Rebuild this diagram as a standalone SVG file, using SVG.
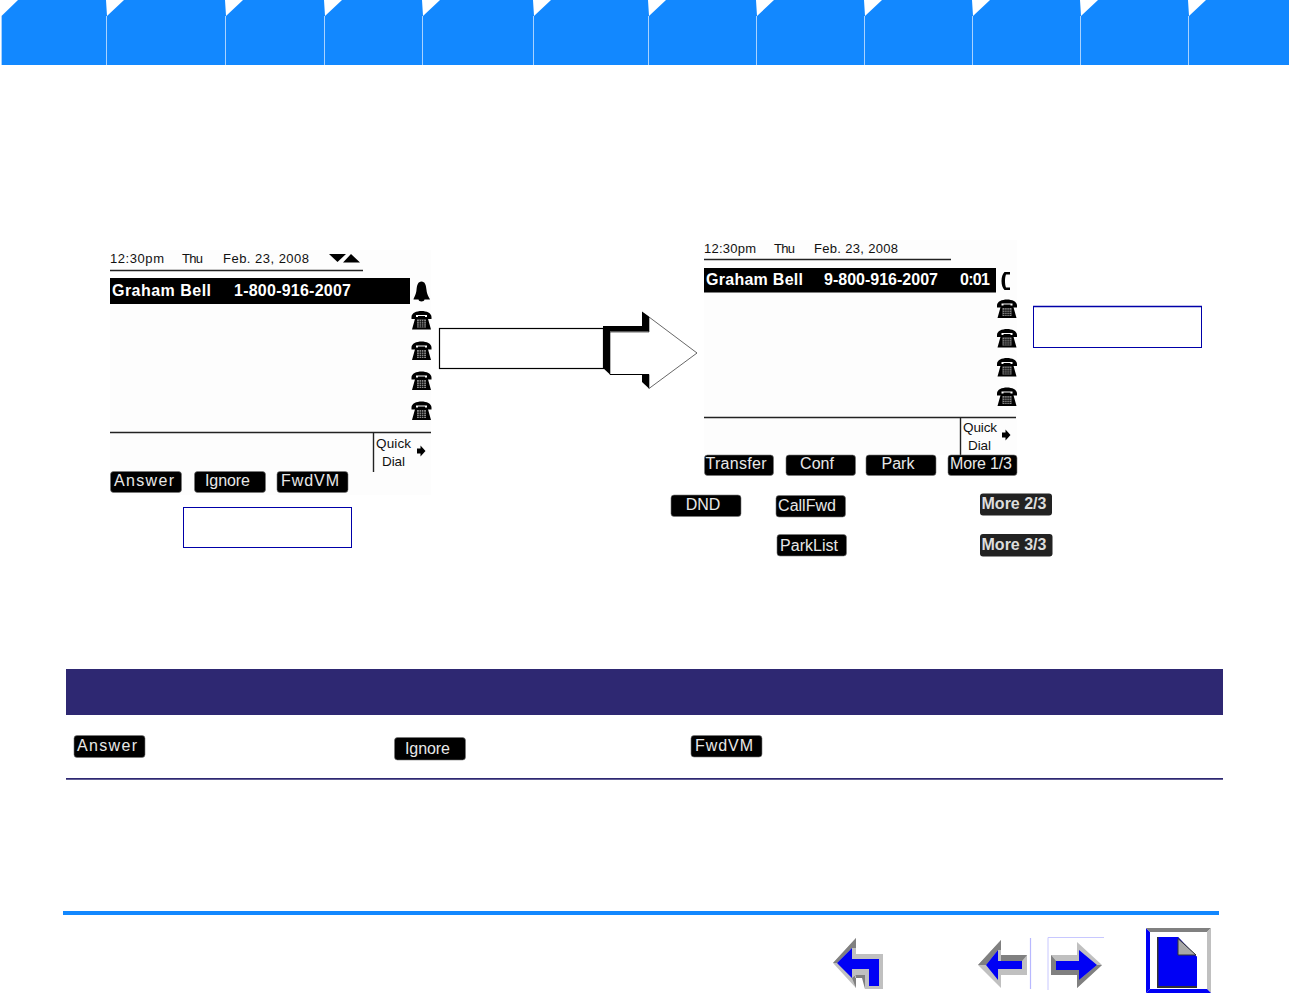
<svg xmlns="http://www.w3.org/2000/svg" width="1289" height="993" viewBox="0 0 1289 993">
<style>
text{font-family:"Liberation Sans",Arial,sans-serif}
.tab{fill:#1288ff}
.sep{stroke:#a8d2ff;stroke-width:1}
.cut{fill:#fff}
.lbl{font-size:13px;fill:#111}
.lbls{font-size:13.5px;fill:#111}
.nm{font-size:16px;font-weight:bold;fill:#fff}
.btn{fill:#000;stroke:#777;stroke-width:.6}
.bt{font-size:16px;fill:#e8e8e8;text-anchor:middle}
.rule{stroke:#222;stroke-width:1.4;fill:none}
.callout{fill:#fff;stroke:#0000a8;stroke-width:1}
.more{font-size:16px;font-weight:bold;fill:#ddd;text-anchor:middle}
.g1{fill:#c0c0c0}.g2{fill:#808080}.bl{fill:#0000f5}
</style>
<defs>
<g id="phone">
<path d="M-10-3.500C-10-7.500-5-9.500 0-9.500S10-7.500 10-3.500V-1.500H5.500V-5.500H-5.500V-1.500H-10Z" fill="#000"/>
<path d="M-6-3.500H-3.500V-4.500H3.500V-3.500H6L9.500 9H-9.500Z" fill="#000"/>
<rect x="-4.500" y="-1" width="9" height="8" fill="#888"/>
<path d="M-4.500 1.200H4.500M-4.500 3.400H4.500M-4.500 5.500H4.500M-2.200-1V7M0-1V7M2.200-1V7" stroke="#000" stroke-width=".7"/>
</g>
<path id="dart" d="M-4-2.500H-.5V-5.500L4.500 0-.5 5.500V2.500H-4Z" fill="#000"/>
</defs>

<g id="nav-tabs">
<rect class="tab" x="0" y="0" width="1289" height="65"/>
<path class="cut" d="M0 0H18L1.500 16V65H0ZM106 0H124L107 16ZM225 0H243L226 16ZM324 0H342L325 16ZM422 0H440L423 16ZM533 0H551L534 16ZM648 0H666L649 16ZM756 0H774L757 16ZM864 0H882L865 16ZM972 0H990L973 16ZM1080 0H1098L1081 16ZM1188 0H1206L1189 16Z"/>
<path class="sep" d="M1.500 16V65M106.500 16V65M225.500 16V65M324.500 16V65M422.500 16V65M533.500 16V65M648.500 16V65M756.500 16V65M864.500 16V65M972.500 16V65M1080.500 16V65M1188.500 16V65"/>
</g>

<g id="screen-ringing">
<rect x="110" y="250" width="321" height="245" fill="#fdfdfd"/>
<text class="lbl" x="110" y="263" textLength="54">12:30pm</text>
<text class="lbl" x="182" y="263" textLength="21">Thu</text>
<text class="lbl" x="223" y="263" textLength="86">Feb. 23, 2008</text>
<path d="M329 254H346L337.500 262ZM343 262.500 351 254 360 262.500Z" fill="#000"/>
<path class="rule" d="M110 270.500H363"/>
<rect x="110" y="278" width="300" height="26" fill="#000"/>
<text class="nm" x="112" y="296" textLength="99">Graham Bell</text>
<text class="nm" x="234" y="296" textLength="117">1-800-916-2007</text>
<path d="M421.500 281.500C418 281.500 417 285 416.500 290C416 295 414 297 413.500 299.500H418.500C418.500 302 424.500 302 424.500 299.500H430C429 297 427 295 426.500 290C426 285 425 281.500 421.500 281.500Z" fill="#000"/>
<use href="#phone" x="421.500" y="320.500"/>
<use href="#phone" x="421.500" y="351"/>
<use href="#phone" x="421.500" y="381"/>
<use href="#phone" x="421.500" y="411"/>
<path class="rule" d="M110 432.500H431M373.500 433V472"/>
<text class="lbls" x="376" y="448" textLength="35">Quick</text>
<text class="lbls" x="382" y="466" textLength="23">Dial</text>
<use href="#dart" x="421" y="451"/>
</g>

<g id="softkeys-ringing">
<rect class="btn" x="110.500" y="471.500" width="71" height="21" rx="3"/><text class="bt" x="144" y="486" textLength="60">Answer</text>
<rect class="btn" x="194.500" y="471.500" width="71" height="21" rx="3"/><text class="bt" x="227.500" y="486" textLength="45">Ignore</text>
<rect class="btn" x="277" y="471.500" width="71" height="21" rx="3"/><text class="bt" x="310" y="486" textLength="58">FwdVM</text>
</g>

<g id="callout-left"><rect class="callout" x="183.500" y="507.500" width="168" height="40"/></g>

<g id="screen-connected">
<rect x="704" y="240" width="313" height="215" fill="#fdfdfd"/>
<text class="lbl" x="704" y="253" textLength="52">12:30pm</text>
<text class="lbl" x="774" y="253" textLength="21">Thu</text>
<text class="lbl" x="814" y="253" textLength="84">Feb. 23, 2008</text>
<path class="rule" d="M704 259.500H951"/>
<rect x="704" y="268" width="292" height="24.500" fill="#000"/>
<text class="nm" x="706" y="285" textLength="97">Graham Bell</text>
<text class="nm" x="824" y="285" textLength="114">9-800-916-2007</text>
<text class="nm" x="960" y="285" textLength="30">0:01</text>
<path d="M1010 272H1004.500C1002.500 274 1001.500 277 1001.500 281S1002.500 288 1004.500 290H1010V287.500H1006C1005.300 285.500 1005 283.500 1005 281S1005.300 276.500 1006 274.500H1010Z" fill="#000"/>
<use href="#phone" x="1007" y="309"/>
<use href="#phone" x="1007" y="338.500"/>
<use href="#phone" x="1007" y="367.500"/>
<use href="#phone" x="1007" y="397"/>
<path class="rule" d="M704 417.500H1016M960.500 418V455"/>
<text class="lbls" x="963" y="432" textLength="34">Quick</text>
<text class="lbls" x="968" y="450" textLength="23">Dial</text>
<use href="#dart" x="1006" y="435"/>
</g>

<g id="softkeys-connected">
<rect class="btn" x="704.500" y="455" width="69" height="20.500" rx="3"/><text class="bt" x="736" y="469" textLength="61">Transfer</text>
<rect class="btn" x="786" y="455" width="69.500" height="20.500" rx="3"/><text class="bt" x="817" y="469">Conf</text>
<rect class="btn" x="866" y="455" width="70" height="20.500" rx="3"/><text class="bt" x="898" y="469">Park</text>
<rect class="btn" x="948" y="455" width="69" height="20.500" rx="3"/><text class="bt" x="981" y="469" textLength="62">More 1/3</text>
<rect class="btn" x="671" y="495" width="70" height="21.500" rx="3"/><text class="bt" x="703" y="510">DND</text>
<rect class="btn" x="776" y="495.500" width="69.500" height="21.500" rx="3"/><text class="bt" x="807" y="511">CallFwd</text>
<rect class="btn" x="777" y="534.500" width="69.500" height="21.500" rx="3"/><text class="bt" x="809" y="551">ParkList</text>
<rect x="980" y="493.500" width="72" height="22" rx="3" fill="#222"/><text class="more" x="1014" y="509">More 2/3</text>
<rect x="980" y="534" width="72.500" height="22.500" rx="3" fill="#222"/><text class="more" x="1014" y="550">More 3/3</text>
</g>

<g id="callout-right"><rect class="callout" x="1033.500" y="306.500" width="168" height="41"/><path d="M1033 306.500H1202" stroke="#0000a8" stroke-width="1.500"/></g>

<g id="connectors">
<path d="M610 332H649V317L697 353 649 388.500V374.500H610Z" fill="#fff" stroke="#000" stroke-width=".6"/>
<path d="M603 326H642V311.500L649 316.500V331.500H610V374.500L603 368Z" fill="#000"/>
<path d="M642 374H649V388.500L642 382Z" fill="#000"/>
<path d="M610 374.500H642" stroke="#000" stroke-width="1"/>
<rect x="439.500" y="328.500" width="164" height="40" fill="#fff" stroke="#000" stroke-width="1.200"/>
</g>

<g id="softkey-table">
<rect x="66" y="669" width="1157" height="46" fill="#2e2872"/>
<path d="M66 778.800H1223" stroke="#2e2872" stroke-width="1.800"/>
<rect class="btn" x="74" y="735.500" width="71" height="22" rx="3"/><text class="bt" x="107" y="751" textLength="60">Answer</text>
<rect class="btn" x="394.500" y="737.500" width="71" height="22.500" rx="3"/><text class="bt" x="427.500" y="754" textLength="45">Ignore</text>
<rect class="btn" x="691" y="735.500" width="71" height="21.500" rx="3"/><text class="bt" x="724" y="751" textLength="58">FwdVM</text>
</g>

<g id="footer">
<rect x="63" y="911" width="1156" height="4" fill="#1288ff"/>
<g id="nav-back">
<path d="M856 938 833 963 856 988V975H865V989H883V954H856Z" class="g1"/>
<path d="M856 938 833 963 837 963 852 948H856ZM852 978 856 988V975ZM855 975H865V989L862 978H855Z" class="g2"/>
<path d="M852 948 837 963 852 978V969H869V986H879V959H852Z" class="bl"/>
</g>
<g id="nav-prev">
<path d="M1001 940 978 965 1001 988V975H1027V955H1001Z" class="g1"/>
<path d="M1001 940 978 965 986 965 998 950H1001ZM1001 955H1027L1022 961H1001Z" class="g2"/>
<path d="M998 950 986 965 998 980V969H1022V961H998Z" class="bl"/>
<path d="M1030.500 938V989" stroke="#b8b8ff" stroke-width="1.200"/>
</g>
<g id="nav-next">
<path d="M1048 990V937.500H1104" stroke="#c8c8ff" stroke-width="1" fill="none"/>
<path d="M1077 942 1102 965 1077 988V975H1051V955H1077Z" class="g1"/>
<path d="M1077 988 1102 965H1097L1079 980V975H1077ZM1051 955 1056 961V970H1079V975H1051Z" class="g2"/>
<path d="M1079 950 1097 965 1079 980V970H1056V961H1079Z" class="bl"/>
</g>
<g id="nav-doc">
<path d="M1146 928H1211V993H1146Z" fill="#fff"/>
<path d="M1146 928 1150 932V989L1146 993Z" class="bl"/>
<path d="M1146 928H1211L1207 932H1150Z" class="g2"/>
<path d="M1211 928V993L1207 989V932Z" class="g1"/>
<path d="M1150 989H1207L1211 993H1146Z" class="bl"/>
<path d="M1157 937H1178L1197 957V988H1157Z" fill="#333"/>
<path d="M1158.500 937H1178L1197 957V986H1158.500Z" class="bl"/>
<path d="M1178 938.500 1196 955H1178Z" fill="#a8a8a8" stroke="#333" stroke-width="1"/>
</g>
</g>
</svg>
